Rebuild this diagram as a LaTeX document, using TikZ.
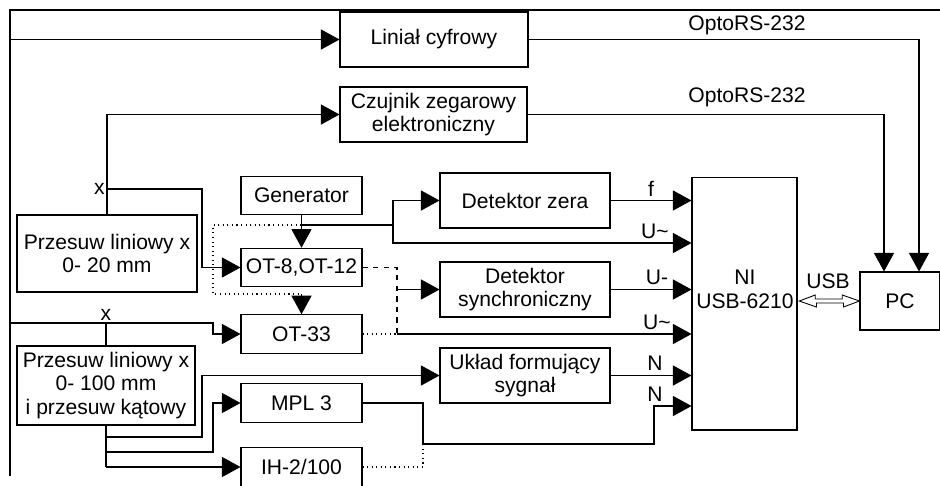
\documentclass[tikz,border=0pt]{standalone}
\usepackage{fontspec}
\setmainfont{Liberation Sans}
\usetikzlibrary{arrows.meta}
\tikzset{
  blok/.style={draw, line width=0.6pt, inner sep=1pt, align=center, font=\fontsize{12}{13.6}\selectfont},
  wide/.style={blok, minimum width=3.4cm, minimum height=1.1cm},
  small/.style={blok, minimum width=2.42cm, minimum height=0.77cm},
  opis/.style={font=\fontsize{12}{13.6}\selectfont, inner sep=1pt},
  arr/.style={-{Triangle[length=3.7mm,width=4mm]}},
}
\begin{document}
\begin{tikzpicture}[x=0.02cm, y=-0.02cm, line width=0.6pt]
\useasboundingbox (0,0) rectangle (940,485);
% frame
\draw (10,476) -- (10,10) -- (940,10);

% blocks
\node[blok, minimum width=3.76cm, minimum height=1.1cm] (lin) at (434,39.5) {Liniał cyfrowy};
\node[blok, minimum width=3.74cm, minimum height=1.1cm] (czuj) at (433.5,114.5) {Czujnik zegarowy\\elektroniczny};
\node[small] (gen) at (301.5,195.5) {Generator};
\node[small] (ot8) at (301.5,267.5) {OT-8,OT-12};
\node[small] (ot33) at (301.5,334) {OT-33};
\node[small] (mpl) at (301.5,403) {MPL 3};
\node[small] (ih) at (301.5,467) {IH-2/100};
\node[wide] (detz) at (525,200.5) {Detektor zera};
\node[wide] (dets) at (525,289.5) {Detektor\\synchroniczny};
\node[wide] (uklad) at (525,375.5) {Układ formujący\\sygnał};
\node[blok, minimum width=2.1cm, minimum height=5.06cm] (ni) at (744.5,303.5) {};
\node[opis, align=center] (nitxt) at (745,289) {NI\\USB-6210};
\node[blok, minimum width=1.6cm, minimum height=1.16cm] (pc) at (900,301) {PC};
\node[blok, minimum width=3.6cm, minimum height=1.54cm] (p20) at (107,253.5) {Przesuw liniowy x\\0- 20 mm};
\node[blok, minimum width=3.56cm, minimum height=1.58cm] (p100) at (106,385.5) {Przesuw liniowy x\\0- 100 mm\\i przesuw kątowy};

% helper points
\coordinate (lx) at (10,0);
\coordinate (ux) at (202,0);
\coordinate (mx2) at (213,0);
\coordinate (sx) at (393,0);
\coordinate (kx) at (397,0);
\coordinate (mx) at (423,0);
\coordinate (nx) at (654,0);
\coordinate (gy) at (0,225);
\coordinate (u1) at (0,243);
\coordinate (n2) at (0,406);
\coordinate (my) at (0,444);
\coordinate (t1) at (106,323);
\coordinate (t2) at (107,189);
\coordinate (b1) at (106,437);
\coordinate (b2) at (106,452);
\coordinate (b3) at (p100.south |- ih.west);
\coordinate (gj) at (gen.south |- gy);

% Przesuw 0-20
\draw[arr] (p20.north) |- (czuj.west);
\draw[arr] (t2) -| (ux |- ot8.west) -- (ot8.west);
\node[opis, left] at (t2) {x};

% Przesuw 0-100
\draw (p100.north) -- (t1);
\draw[arr] (t1) -| (lx |- lin.west) -- (lin.west);
\draw[arr] (t1) -| (mx2 |- ot33.west) -- (ot33.west);
\node[opis, above] at (t1) {x};
\draw (p100.south) -- (b3);
\draw[arr] (b1) -| (ux |- uklad.west) -- (uklad.west);
\draw[arr] (b2) -| (mx2 |- mpl.west) -- (mpl.west);
\draw[arr] (b3) -- (ih.west);

% Generator
\draw[arr] (gen.south) -- (ot8.north);
\draw (gj) -- (sx |- gy);
\draw[arr] (sx |- gy) |- (detz.west);
\draw[arr] (sx |- gy) |- (ni.west |- u1);
\draw[dotted] (gj) -| (213,294) -- (301.5,294);
\draw[arr] (301.5,294) -- (ot33.north);

% OT outputs
\draw[dashed] (ot8.east) -| (kx |- ot33.east);
\draw[dotted] (ot33.east) -- (kx |- ot33.east);
\draw[arr] (kx |- dets.west) -- (dets.west);
\draw[arr] (kx |- ot33.east) -- (ni.west |- ot33.east);

% MPL 3, IH-2/100
\draw[arr] (mpl.east) -| (mx |- my) -| (nx |- n2) -- (ni.west |- n2);
\draw[dotted] (ih.east) -| (mx |- my);

% detectors to NI
\draw[arr] (detz.east) -- (ni.west |- detz.east);
\draw[arr] (dets.east) -- (ni.west |- dets.east);
\draw[arr] (uklad.east) -- (ni.west |- uklad.east);

% to PC
\draw[arr] (lin.east) -| ([xshift=0.38cm]pc.north);
\draw[arr] (czuj.east) -| ([xshift=-0.32cm]pc.north);
% USB (hollow double arrow)
\draw[line width=0.5pt] ([xshift=1pt]ni.east |- pc.west) -- ++(16,-6) -- ++(0,4) -- ++(27,0) -- ++(0,-4)
  -- (pc.west) -- ++(-16,6) -- ++(0,-4) -- ++(-27,0) -- ++(0,4) -- cycle;

% labels
\node[opis] at (747,25) {OptoRS-232};
\node[opis] at (747,97) {OptoRS-232};
\node[opis] at (651,189) {f};
\node[opis] at (655,231) {U\textasciitilde};
\node[opis] at (657,277) {U-};
\node[opis] at (657,322) {U\textasciitilde};
\node[opis] at (655,363) {N};
\node[opis] at (655,394) {N};
\node[opis] at (828,281) {USB};
\end{tikzpicture}
\end{document}
